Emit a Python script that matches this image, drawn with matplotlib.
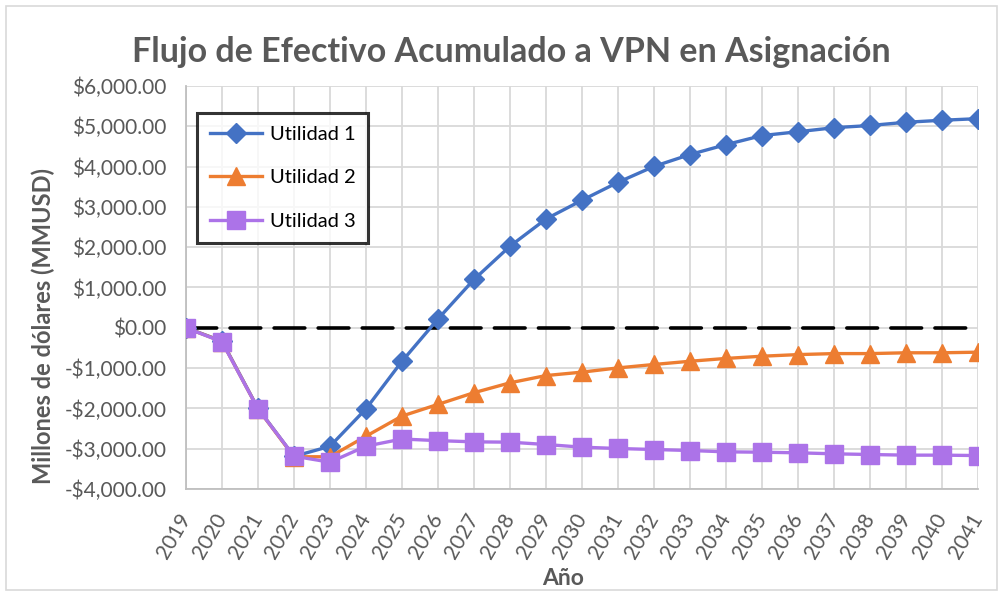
import matplotlib
matplotlib.use("Agg")
import matplotlib.pyplot as plt
from matplotlib.ticker import FuncFormatter, MultipleLocator
from matplotlib.patches import Rectangle

years = list(range(2019, 2042))
utilidad1 = [0, -330, -2000, -3190, -2940, -2010, -830, 220, 1200, 2025, 2700, 3165, 3610, 4005,
             4300, 4545, 4770, 4865, 4965, 5020, 5100, 5150, 5190]
utilidad2 = [0, -340, -2010, -3200, -3200, -2690, -2190, -1900, -1610, -1365, -1185, -1100, -995, -910,
             -830, -760, -705, -665, -640, -640, -620, -620, -605]
utilidad3 = [0, -348, -2010, -3186, -3335, -2937, -2760, -2800, -2830, -2838, -2896, -2962, -2995, -3020,
             -3045, -3078, -3087, -3102, -3127, -3144, -3160, -3160, -3170]
zero_line = [0] * len(years)

title = "Flujo de Efectivo Acumulado a VPN en Asignación"
xlabel = "Año"
ylabel = "Millones de dólares (MMUSD)"

plt.rcParams['font.family'] = ['Lato', 'DejaVu Sans']
gray = '#595959'

W, H = 1003, 596
fig = plt.figure(figsize=(W / 100, H / 100), dpi=100)
L, R, T, B = 186, 978, 86, 489
ax = fig.add_axes([L / W, 1 - B / H, (R - L) / W, (B - T) / H])

ax.plot(years, zero_line, color='black', lw=2.6, dashes=(8.5, 3.7),
        dash_capstyle='round', zorder=2)
ax.plot(years, utilidad1, color='#4472C4', lw=2.4, marker='D', markersize=10.5,
        label='Utilidad 1', zorder=3)
ax.plot(years, utilidad2, color='#ED7D31', lw=2.4, marker='^', markersize=12.5,
        label='Utilidad 2', zorder=4)
ax.plot(years, utilidad3, color='#AC73E8', lw=2.4, marker='s', markersize=12.5,
        label='Utilidad 3', zorder=5)

ax.set_xlim(2019, 2041)
ax.set_ylim(-4000, 6000)
ax.yaxis.set_major_locator(MultipleLocator(1000))
ax.set_xticks(years)
ax.set_xticklabels([str(y) for y in years], rotation=60, ha='right', va='center',
                   rotation_mode='anchor')

def fmt(v, pos):
    if v < 0:
        return "-${:,.2f}".format(-v)
    return "${:,.2f}".format(v)
ax.yaxis.set_major_formatter(FuncFormatter(fmt))

ax.grid(True, color='#D9D9D9', lw=1.3, zorder=0)
ax.set_axisbelow(True)
for s in ['top', 'right']:
    ax.spines[s].set_visible(False)
for s in ['left', 'bottom']:
    ax.spines[s].set_color('#BFBFBF')
    ax.spines[s].set_linewidth(1.3)
ax.tick_params(axis='both', length=0, labelsize=15, colors=gray)
ax.tick_params(axis='y', pad=14)
ax.tick_params(axis='x', pad=19)

ax.set_xlabel(xlabel, fontsize=16.5, fontweight='bold', color=gray, va='baseline')
ax.xaxis.set_label_coords((563 - L) / (R - L), (B - 585) / (B - T))
ax.set_ylabel(ylabel, fontsize=17, fontweight='bold', color=gray, va='center')
ax.yaxis.set_label_coords((43 - L) / (R - L), (B - 326) / (B - T))

fig.text(0.51, 1 - 62 / H, title, ha='center', va='baseline', fontsize=24.5,
         fontweight='bold', color=gray)

leg = ax.legend(loc='upper left', bbox_to_anchor=((197 - L) / (R - L), (B - 113) / (B - T)),
                fontsize=14.5, frameon=True, fancybox=False, edgecolor='black',
                borderpad=0.65, labelspacing=1.3, handlelength=2.6, handletextpad=0.35,
                borderaxespad=0)
leg.get_frame().set_linewidth(2.2)
for t in leg.get_texts():
    t.set_color('black')

fig.patches.append(Rectangle((6 / W, 6 / H), 1 - 12 / W, 1 - 12 / H, transform=fig.transFigure,
                             fill=False, edgecolor='#D9D9D9', lw=1.2))

fig.savefig('out.png', dpi=100, facecolor='white')
